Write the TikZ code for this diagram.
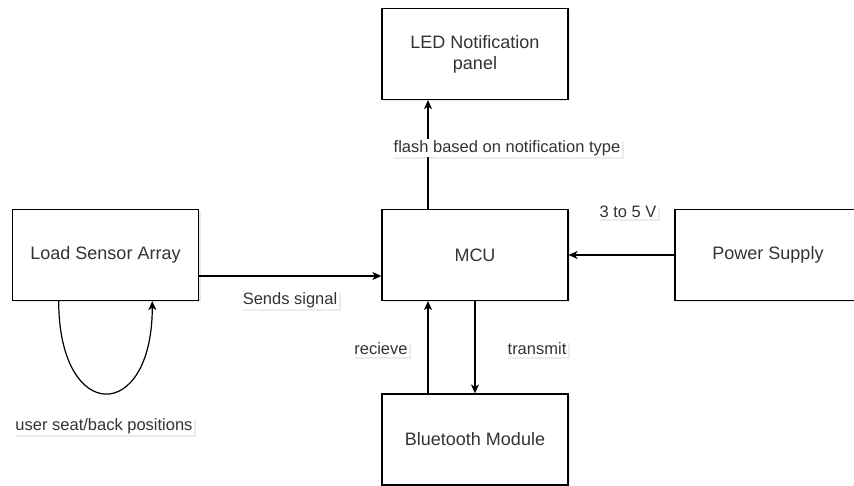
\documentclass[tikz,border=0pt]{standalone}
\usepackage{fontspec}
\setmainfont{Liberation Sans}
\usepackage{tikz}
\usetikzlibrary{arrows.meta, positioning, calc, shadows}
\definecolor{txtgray}{HTML}{333333}

\begin{document}
\begin{tikzpicture}[x=1pt, y=-1pt,
    block/.style={draw=black, line width=1.2pt, fill=white, minimum width=186pt, minimum height=91pt,
        align=center, text=txtgray, font=\fontsize{18}{21}\selectfont,
        drop shadow={opacity=0.18, shadow xshift=2pt, shadow yshift=-2pt}},
    lbl/.style={fill=white, text=txtgray, inner sep=1.5pt, font=\fontsize{16.5}{19}\selectfont,
        drop shadow={opacity=0.15, shadow xshift=2pt, shadow yshift=-2pt}},
    link/.style={-{Stealth[length=9pt, width=8pt, inset=2.5pt]}, line width=1.2pt}]
    \useasboundingbox (0,0) rectangle (854,486);
    % === Blocks ===
    \node[block] (led) at (475, 54) {LED Notification\\panel};
    \node[block] (mcu) at (475, 255) {MCU};
    \node[block] (load) at (105.5, 255) {Load Sensor Array};
    \node[block] (power) at (768, 255) {Power Supply};
    \node[block] (bt) at (475, 439.5) {Bluetooth Module};
    % === Connectors ===
    \draw[link] ([yshift=-21pt]load.east) -- ([yshift=-21pt]mcu.west);
    \draw[link] (power.west) -- (mcu.east);
    \draw[link] ([xshift=-47pt]mcu.north) -- ([xshift=-47pt]led.south);
    \draw[link] ([xshift=-47pt]bt.north) -- ([xshift=-47pt]mcu.south);
    \draw[link] (mcu.south) -- (bt.north);
    \coordinate (loopa) at ($(load.south west)!0.25!(load.south east)$);
    \coordinate (loopb) at ($(load.south west)!0.75!(load.south east)$);
    \draw[link] (loopa) .. controls ($(loopa)+(0,123)$) and ($(loopb)+(0,123)$) .. (loopb);
    % === Labels ===
    \node[lbl] (flash) at (507, 148) {flash based on notification type};
    \node[lbl] (volt) at (628, 212) {3 to 5 V};
    \node[lbl] (sends) at (290, 300) {Sends signal};
    \node[lbl] (recv) at (381, 349) {recieve};
    \node[lbl] (tx) at (537, 349) {transmit};
    \node[lbl] (pos) at (104, 426) {user seat/back positions};
\end{tikzpicture}
\end{document}
